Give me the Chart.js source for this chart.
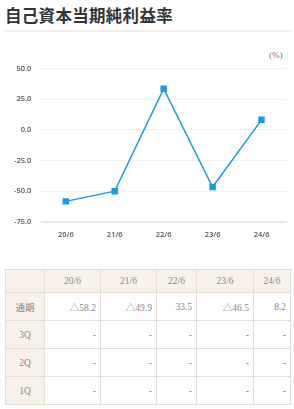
<!DOCTYPE html>
<html><head><meta charset="utf-8">
<script src="https://cdn.jsdelivr.net/npm/chart.js@4"></script>
<style>
html,body{margin:0;padding:0;background:#fff;width:294px;height:409px;overflow:hidden;}
#title{position:absolute;left:5px;top:3px;font-family:"Noto Sans CJK JP";font-weight:bold;font-size:16.5px;color:#333;letter-spacing:0.3px;}
#rule{position:absolute;left:4px;top:30px;width:288px;height:2px;background:#f4eee6;}
#unit{position:absolute;left:269px;top:50px;font-family:"Liberation Serif","Noto Sans CJK JP";font-size:9px;color:#777;}
#wrap{position:absolute;left:0;top:54px;width:294px;height:185px;}
table{position:absolute;left:5px;top:269px;border-collapse:collapse;font-family:"Liberation Serif","Noto Sans CJK JP";font-size:9.5px;color:#888;}
td,th{border:1px solid #e2ded9;padding:0 4px;}
th{background:#f7f1ea;font-weight:normal;height:22px;text-align:center;}
td{height:27px;text-align:right;}
td.h{background:#f7f1ea;text-align:center;}
</style></head><body>
<div id="title">自己資本当期純利益率</div>
<div id="rule"></div>
<div id="unit">(%)</div>
<div id="wrap"><canvas id="c"></canvas></div>
<table id="t"></table>
<script>
const categories = ["20/6","21/6","22/6","23/6","24/6"];
const roe = [-58.2,-49.9,33.5,-46.5,8.2];
const tableLabels = ["20/6","21/6","22/6","23/6","24/6"];
const rowNames = ["通期","3Q","2Q","1Q"];
const rowTexts = [["△58.2","△49.9","33.5","△46.5","8.2"],["-","-","-","-","-"],["-","-","-","-","-"],["-","-","-","-","-"]];
const colWidths = [39,56,56,40,57,37];

// table
const t = document.getElementById('t');
let h = '<tr><th style="width:'+(colWidths[0]-9)+'px"></th>';
tableLabels.forEach((l,i)=>{h+='<th style="width:'+(colWidths[i+1]-9)+'px">'+l+'</th>';});
h+='</tr>';
rowNames.forEach((r,ri)=>{
  h+='<tr><td class="h">'+r+'</td>';
  rowTexts[ri].forEach(v=>{h+='<td>'+v+'</td>';});
  h+='</tr>';
});
t.innerHTML=h;

new Chart(document.getElementById('c'),{
  type:'line',
  data:{labels:categories,datasets:[{data:roe,borderColor:'#1a9be6',backgroundColor:'#1a9be6',borderWidth:1.5,pointStyle:'rect',pointRadius:3.5,pointHoverRadius:3.5,tension:0,fill:false}]},
  options:{responsive:true,maintainAspectRatio:false,animation:false,
    layout:{padding:{left:4,right:8,top:0,bottom:0}},
    plugins:{legend:{display:false},tooltip:{enabled:false}},
    scales:{
      x:{offset:true,grid:{display:false},border:{display:true,color:'#e3e7ef',width:1.5},
        ticks:{color:'#555',font:{family:'Open Sans',size:7.5,weight:'600'},padding:0}},
      y:{min:-75,max:50,grid:{color:'#f0f0f0',drawTicks:false},border:{display:false},
        ticks:{stepSize:25,color:'#555',padding:10,font:{family:'Open Sans',size:7.5,weight:'600'},callback:v=>v.toFixed(1)}}
    }
  }
});
</script>
</body></html>
